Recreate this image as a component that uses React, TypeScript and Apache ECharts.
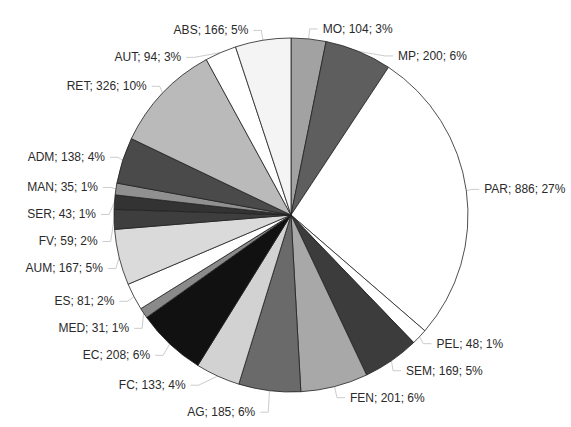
import React, { useEffect, useRef } from "react";
import * as echarts from "echarts";

const categories = ["MO", "MP", "PAR", "PEL", "SEM", "FEN", "AG", "FC", "EC", "MED", "ES", "AUM", "FV", "SER", "MAN", "ADM", "RET", "AUT", "ABS"];
const values = [104, 200, 886, 48, 169, 201, 185, 133, 208, 31, 81, 167, 59, 43, 35, 138, 326, 94, 166];
const colors = ["#a2a2a2", "#5e5e5e", "#ffffff", "#ffffff", "#3c3c3c", "#a8a8a8", "#6a6a6a", "#d2d2d2", "#111111", "#8a8a8a", "#ffffff", "#dadada", "#3e3e3e", "#333333", "#909090", "#4a4a4a", "#bababa", "#ffffff", "#f4f4f4"];

export default function App() {
  const ref = useRef<HTMLDivElement>(null);
  useEffect(() => {
    if (!ref.current) return;
    const chart = echarts.init(ref.current, null, { renderer: "svg" });
    const total = values.reduce((a, b) => a + b, 0);
    chart.setOption({
      animation: false,
      backgroundColor: "#ffffff",
      series: [
        {
          type: "pie",
          center: [291, 215],
          radius: 177,
          startAngle: 90,
          clockwise: true,
          data: categories.map((c, i) => ({ name: c, value: values[i], itemStyle: { color: colors[i] } })),
          itemStyle: { borderColor: "#222", borderWidth: 0.8 },
          label: {
            show: true,
            formatter: (p: any) => `${p.name}; ${p.value}; ${Math.round((p.value / total) * 100)}%`,
            fontFamily: "Liberation Sans, Arial, sans-serif",
            fontSize: 12,
            lineHeight: 25,
            color: "#2a2a2a",
            overflow: "none",
          },
          labelLine: { show: true, length: 10, length2: 8, lineStyle: { color: "#cccccc", width: 1 } },
        },
      ],
    });
    return () => chart.dispose();
  }, []);
  return <div ref={ref} style={{ position: "absolute", left: 0, top: 0, width: 571, height: 427 }} />;
}
